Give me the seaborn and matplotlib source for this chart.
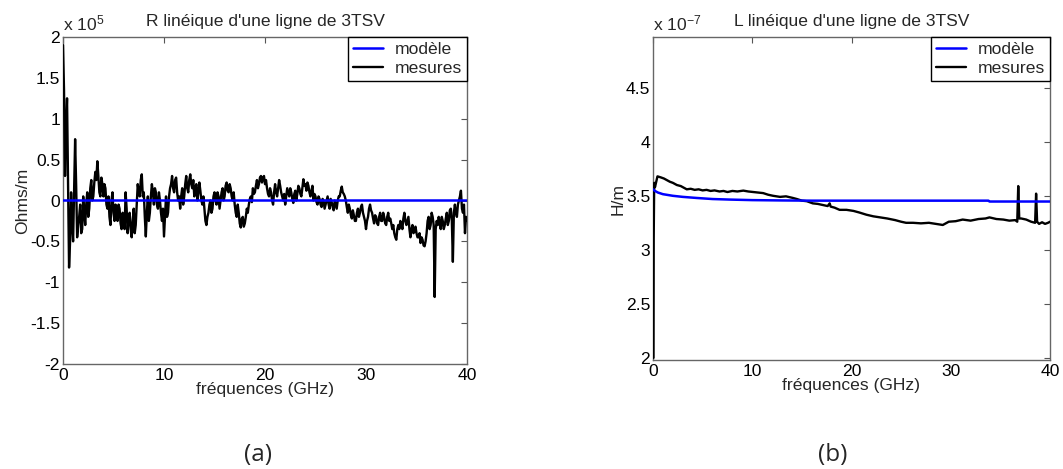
import numpy as np
import pandas as pd
import matplotlib
matplotlib.use("Agg")
import matplotlib.pyplot as plt
import seaborn as sns

# ---------------- data ----------------
# (a) R lineique, in units of 1e5 Ohms/m.
# readings at even steps (0, 0.2, ..., 40 GHz)
r_meas_even = [
    1.90, 0.30, 1.25, -0.82, 0.10, -0.50, 0.75, -0.45, -0.20, -0.40,
    0.05, -0.30, 0.10, -0.10, 0.25, 0.05, 0.35, 0.48, 0.10, 0.28,
    0.05, 0.15, -0.10, -0.20, 0.00, -0.15, -0.05, -0.25, -0.10, -0.35,
    -0.20, 0.10, -0.40, -0.15, -0.45, -0.10, -0.30, 0.20, 0.05, 0.32,
    0.10, -0.44, 0.05, -0.15, 0.20, -0.05, 0.10, -0.10, 0.00, -0.25,
    -0.44, 0.05, -0.15, 0.15, 0.30, 0.10, 0.28, 0.00, -0.10, 0.15,
    0.05, 0.30, 0.10, 0.32, 0.15, 0.05, 0.20, 0.10, 0.12, -0.05,
    -0.10, -0.30, -0.15, 0.00, -0.10, 0.10, -0.05, 0.05, 0.00, 0.15,
    0.05, 0.22, 0.10, 0.15, 0.00, -0.05, -0.20, -0.15, -0.33, -0.20,
    -0.28, -0.10, -0.05, 0.05, 0.15, 0.10, 0.25, 0.20, 0.30, 0.28,
    0.20, 0.15, 0.05, 0.10, -0.05, 0.20, 0.05, 0.25, 0.10, 0.00,
    -0.05, 0.15, 0.05, 0.10, -0.03, 0.12, 0.08, 0.15, 0.05, 0.26,
    0.20, 0.22, 0.10, 0.12, 0.00, 0.05, -0.05, 0.02, -0.08, 0.00,
    -0.05, 0.05, -0.10, -0.02, -0.12, -0.05, 0.00, 0.05, 0.17, 0.08,
    0.00, -0.15, -0.10, -0.22, -0.18, -0.25, -0.10, -0.15, -0.05, -0.20,
    -0.35, -0.20, -0.05, -0.15, -0.28, -0.20, -0.30, -0.15, -0.25, -0.20,
    -0.30, -0.15, -0.22, -0.35, -0.40, -0.48, -0.30, -0.25, -0.35, -0.15,
    -0.30, -0.20, -0.45, -0.30, -0.38, -0.40, -0.45, -0.52, -0.48, -0.56,
    -0.40, -0.20, -0.30, -0.20, -1.18, -0.25, -0.20, -0.35, -0.25, -0.30,
    -0.15, -0.25, -0.10, -0.75, -0.05, -0.20, 0.00, 0.12, -0.15, -0.40,
    -0.25,
]
# readings at odd steps (0.1, 0.3, ..., 39.9 GHz)
r_meas_odd = [
    1.35, 0.90, 0.20, -0.50, -0.30, 0.10, 0.20, -0.30, -0.05, -0.35,
    -0.15, -0.05, -0.20, 0.15, 0.00, 0.22, 0.25, 0.30, 0.05, 0.20,
    0.20, -0.05, 0.05, -0.30, 0.10, -0.25, -0.10, -0.05, -0.28, -0.15,
    -0.35, -0.10, -0.20, -0.35, -0.25, -0.40, -0.05, 0.10, 0.25, 0.05,
    -0.20, -0.15, -0.25, 0.05, 0.10, 0.15, -0.05, 0.10, -0.15, -0.10,
    -0.20, -0.20, 0.05, 0.20, 0.15, 0.25, 0.10, 0.05, 0.05, -0.05,
    0.20, 0.15, 0.25, 0.20, 0.25, 0.15, 0.00, 0.22, 0.00, 0.05,
    -0.25, -0.20, -0.05, -0.15, 0.05, 0.00, 0.10, -0.10, 0.10, 0.00,
    0.18, 0.12, 0.20, 0.05, 0.10, -0.15, -0.05, -0.28, -0.22, -0.32,
    -0.20, -0.15, 0.02, -0.02, 0.08, 0.18, 0.15, 0.28, 0.22, 0.30,
    0.25, 0.08, 0.15, 0.00, 0.10, 0.10, 0.15, 0.18, 0.05, 0.08,
    0.05, 0.10, 0.15, 0.02, 0.08, 0.00, 0.18, 0.08, 0.15, 0.18,
    0.12, 0.18, 0.05, 0.18, 0.08, -0.02, 0.05, -0.05, 0.02, -0.10,
    0.00, -0.05, 0.02, -0.08, 0.00, -0.10, 0.05, 0.12, 0.10, 0.05,
    -0.08, -0.05, -0.18, -0.12, -0.25, -0.15, -0.20, -0.08, -0.15, -0.25,
    -0.25, -0.10, -0.12, -0.22, -0.18, -0.28, -0.20, -0.25, -0.15, -0.28,
    -0.20, -0.25, -0.28, -0.30, -0.45, -0.35, -0.35, -0.28, -0.22, -0.25,
    -0.25, -0.35, -0.35, -0.40, -0.32, -0.45, -0.40, -0.45, -0.55, -0.50,
    -0.25, -0.35, -0.15, -0.30, -0.35, -0.30, -0.28, -0.20, -0.35, -0.22,
    -0.30, -0.12, -0.25, -0.15, -0.15, -0.05, 0.05, -0.10, -0.05, -0.20,
]
r_meas = np.empty(len(r_meas_even) + len(r_meas_odd))
r_meas[0::2] = r_meas_even
r_meas[1::2] = r_meas_odd
r_freq = np.linspace(0, 40, len(r_meas))
r_model_freq = [0.0, 40.0]
r_model = [0.01, 0.01]

# (b) L lineique, in units of 1e-7 H/m
l_freq = [
    0.05, 0.07, 0.12, 0.2, 0.45, 0.8, 1.1, 1.4, 1.7, 2.0,
    2.4, 2.8, 3.1, 3.4, 3.8, 4.2, 4.6, 5.0, 5.4, 5.8,
    6.2, 6.7, 7.1, 7.5, 8.0, 8.5, 9.1, 9.6, 10.1, 10.6,
    11.1, 11.6, 12.1, 12.8, 13.4, 14.1, 14.5, 15.0, 15.5, 16.1,
    16.6, 17.1, 17.6, 17.8, 17.9, 18.3, 18.8, 19.5, 20.2, 20.8,
    21.5, 22.2, 22.9, 23.6, 24.4, 25.0, 25.5, 26.2, 27.0, 27.8,
    28.5, 29.2, 29.8, 30.5, 31.2, 32.0, 32.8, 33.5, 33.9, 34.6,
    35.3, 35.9, 36.5, 36.7, 36.8, 36.9, 37.1, 37.6, 38.1, 38.5,
    38.6, 38.7, 38.9, 39.2, 39.5, 39.8, 40.0,
]
l_meas = [
    2.00, 3.10, 3.62, 3.58, 3.68, 3.67, 3.66, 3.645, 3.63, 3.62,
    3.60, 3.59, 3.575, 3.56, 3.565, 3.555, 3.56, 3.55, 3.555, 3.545,
    3.55, 3.54, 3.545, 3.535, 3.545, 3.54, 3.548, 3.54, 3.535, 3.53,
    3.525, 3.51, 3.50, 3.49, 3.495, 3.48, 3.47, 3.455, 3.45, 3.43,
    3.425, 3.415, 3.405, 3.43, 3.40, 3.39, 3.37, 3.37, 3.36, 3.345,
    3.325, 3.31, 3.30, 3.29, 3.275, 3.26, 3.25, 3.25, 3.245, 3.25,
    3.24, 3.23, 3.26, 3.265, 3.28, 3.27, 3.285, 3.29, 3.30, 3.285,
    3.28, 3.27, 3.275, 3.26, 3.59, 3.29, 3.29, 3.28, 3.26, 3.25,
    3.52, 3.26, 3.24, 3.255, 3.24, 3.25, 3.26,
]
l_model_freq = [0.0, 0.2, 0.5, 1.0, 2.0, 3.0, 4.4, 6.0, 7.75, 10.0,
                13.0, 16.0, 20.0, 25.0, 30.0, 33.8, 33.9, 40.0]
l_model = [3.56, 3.545, 3.53, 3.515, 3.50, 3.49, 3.48, 3.47, 3.465, 3.46,
           3.457, 3.455, 3.455, 3.455, 3.455, 3.455, 3.447, 3.447]

x_ticks = [0, 10, 20, 30, 40]
r_yticks = [-2, -1.5, -1, -0.5, 0, 0.5, 1, 1.5, 2]
r_ytick_labels = ["-2", "-1.5", "-1", "-0.5", "0", "0.5", "1", "1.5", "2"]
l_yticks = [2, 2.5, 3, 3.5, 4, 4.5]
l_ytick_labels = ["2", "2.5", "3", "3.5", "4", "4.5"]

# ---------------- style ----------------
sns.set_style("white")
plt.rcParams["font.family"] = ["Liberation Sans", "DejaVu Sans"]
plt.rcParams["mathtext.default"] = "regular"

FS = 12.6
W, H = 1063, 469
fig = plt.figure(figsize=(W / 100, H / 100), dpi=100)


def ax_rect(l, t, r, b):
    return [l / W, 1 - b / H, (r - l) / W, (b - t) / H]


ax1 = fig.add_axes(ax_rect(63, 37, 467, 364))
ax2 = fig.add_axes(ax_rect(653, 37, 1050, 360))

BLUE = "#0000ff"
BLACK = "#000000"

df_rm = pd.DataFrame({"f": r_model_freq, "v": r_model})
df_r = pd.DataFrame({"f": r_freq, "v": r_meas})
sns.lineplot(data=df_r, x="f", y="v", ax=ax1, color=BLACK, lw=1.7,
             estimator=None, sort=False, label="mesures", zorder=3)
sns.lineplot(data=df_rm, x="f", y="v", ax=ax1, color=BLUE, lw=1.8,
             estimator=None, sort=False, label="modèle", zorder=4)

df_lm = pd.DataFrame({"f": l_model_freq, "v": l_model})
df_l = pd.DataFrame({"f": l_freq, "v": l_meas})
sns.lineplot(data=df_l, x="f", y="v", ax=ax2, color=BLACK, lw=1.7,
             estimator=None, sort=False, label="mesures", zorder=3)
sns.lineplot(data=df_lm, x="f", y="v", ax=ax2, color=BLUE, lw=1.8,
             estimator=None, sort=False, label="modèle", zorder=4)


def style(ax, yticks, ylabels, ylim, title, ylabel, expo):
    ax.set_xlim(0, 40)
    ax.set_ylim(*ylim)
    ax.set_xticks(x_ticks)
    ax.set_xticklabels([str(t) for t in x_ticks])
    ax.set_yticks(yticks)
    ax.set_yticklabels(ylabels)
    ax.tick_params(direction="in", length=4, width=0.8, top=True, right=True,
                   labelsize=FS, colors="#555555", labelcolor="black")
    ax.tick_params(axis="x", pad=3)
    ax.tick_params(axis="y", pad=2)
    for s in ax.spines.values():
        s.set_visible(True)
        s.set_color("#666666")
        s.set_linewidth(1.0)
        s.set_zorder(2)
    ax.set_title(title, fontsize=FS, pad=8)
    ax.set_xlabel("fréquences (GHz)", fontsize=FS, labelpad=-1)
    ax.set_ylabel(ylabel, fontsize=FS, labelpad=0)
    ax.text(0.0, 1.012, expo, transform=ax.transAxes, fontsize=FS,
            ha="left", va="bottom")
    h, l = ax.get_legend_handles_labels()
    order = [l.index("modèle"), l.index("mesures")]
    leg = ax.legend([h[i] for i in order], [l[i] for i in order],
                    loc="upper right", fontsize=FS, frameon=True,
                    fancybox=False, framealpha=1, edgecolor="black",
                    borderaxespad=0, handlelength=1.7, borderpad=0.3,
                    labelspacing=0.2, handletextpad=0.65)
    leg.get_frame().set_linewidth(1.0)
    leg.set_zorder(10)


style(ax1, r_yticks, r_ytick_labels, (-2, 2),
      "R linéique d'une ligne de 3TSV", "Ohms/m", r"x 10$^{5}$")
style(ax2, l_yticks, l_ytick_labels, (1.98, 4.97),
      "L linéique d'une ligne de 3TSV", "H/m", r"x 10$^{-7}$")

fig.text(258 / W, 1 - 455 / H, "(a)", fontsize=17.5, ha="center", va="center",
         family=["Open Sans", "DejaVu Sans"])
fig.text(833 / W, 1 - 455 / H, "(b)", fontsize=17.5, ha="center", va="center",
         family=["Open Sans", "DejaVu Sans"])

fig.savefig("out.png", dpi=100, facecolor="white")
